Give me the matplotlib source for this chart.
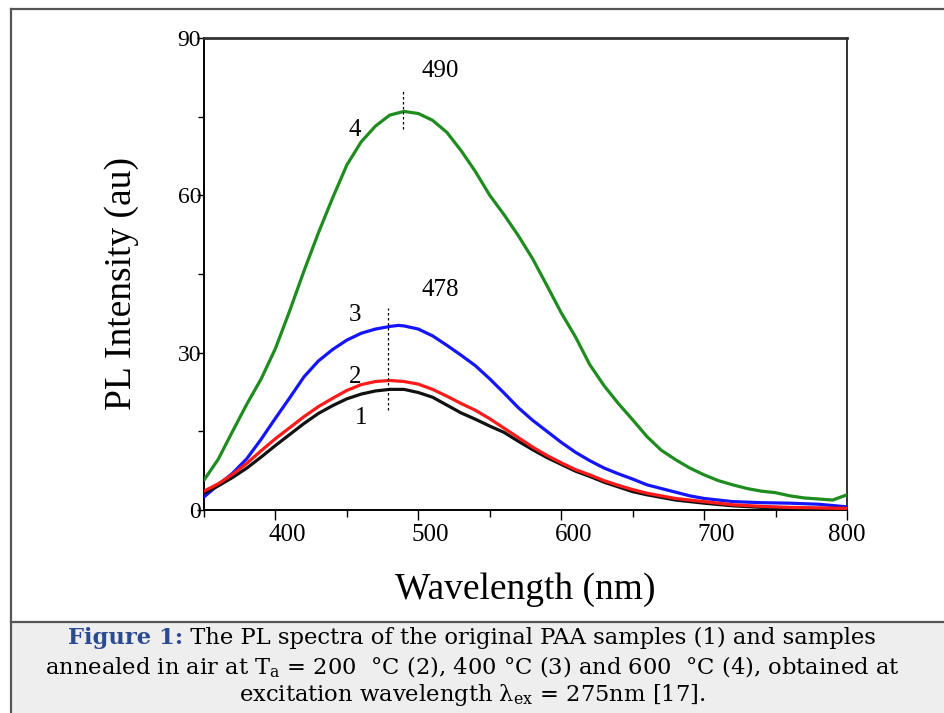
import numpy as np
import matplotlib
matplotlib.use("Agg")
import matplotlib.pyplot as plt
from matplotlib.lines import Line2D
from matplotlib.patches import Rectangle
from matplotlib.ticker import MultipleLocator
from matplotlib.transforms import ScaledTranslation

# PL spectra (wavelength in nm, intensity in au)
wl_4 = [350, 360, 370, 380, 390, 400, 410, 420, 430, 440, 450, 460, 470, 480,
        490, 500, 510, 520, 530, 540, 550, 560, 570, 580, 590, 600, 610, 620,
        630, 640, 650, 660, 670, 680, 690, 700, 710, 720, 730, 740, 750, 760,
        770, 780, 790, 800]
pl_4 = [5.7, 9.7, 15.0, 20.2, 25.0, 30.8, 38.0, 45.6, 52.8, 59.5, 65.8, 70.2,
        73.2, 75.3, 76.0, 75.6, 74.3, 72.0, 68.5, 64.5, 60.0, 56.3, 52.3, 47.9,
        42.8, 37.6, 33.0, 27.7, 23.7, 20.3, 17.2, 14.0, 11.4, 9.6, 8.0, 6.7,
        5.6, 4.8, 4.1, 3.6, 3.3, 2.7, 2.3, 2.1, 1.9, 2.9]

wl_3 = [350, 360, 370, 380, 390, 400, 410, 420, 430, 440, 450, 460, 470, 480,
        486, 490, 500, 510, 520, 530, 540, 550, 560, 570, 580, 590, 600, 610,
        620, 630, 640, 650, 660, 670, 680, 690, 700, 720, 740, 760, 780, 800]
pl_3 = [2.5, 4.8, 7.0, 9.8, 13.5, 17.5, 21.4, 25.4, 28.4, 30.6, 32.4, 33.7,
        34.5, 35.0, 35.2, 35.1, 34.5, 33.2, 31.4, 29.5, 27.5, 25.0, 22.3, 19.5,
        17.1, 15.0, 12.9, 11.0, 9.4, 8.0, 6.9, 5.9, 4.8, 4.1, 3.4, 2.7, 2.2,
        1.6, 1.4, 1.3, 1.1, 0.6]

wl_12 = [350, 360, 370, 380, 390, 400, 410, 420, 430, 440, 450, 460, 470, 480,
         490, 500, 510, 520, 530, 540, 550, 560, 570, 580, 590, 600, 610, 620,
         630, 640, 650, 660, 670, 680, 690, 700, 720, 740, 760, 780, 800]
pl_2 = [3.6, 5.0, 6.8, 8.9, 11.3, 13.6, 15.7, 17.8, 19.7, 21.3, 22.8, 23.9,
        24.5, 24.7, 24.5, 24.0, 23.0, 21.7, 20.3, 19.0, 17.4, 15.6, 13.8, 12.0,
        10.4, 9.0, 7.7, 6.7, 5.6, 4.7, 3.9, 3.2, 2.7, 2.2, 1.9, 1.6, 1.0, 0.7,
        0.5, 0.4, 0.3]
pl_1 = [3.2, 4.6, 6.2, 8.0, 10.1, 12.3, 14.4, 16.5, 18.4, 19.9, 21.2, 22.1,
        22.7, 23.0, 23.0, 22.4, 21.5, 20.0, 18.5, 17.3, 16.0, 14.8, 13.1, 11.5,
        10.0, 8.7, 7.4, 6.4, 5.3, 4.4, 3.5, 2.9, 2.4, 1.9, 1.6, 1.3, 0.8, 0.5,
        0.4, 0.3, 0.3]

curve_labels = ["1", "2", "3", "4"]
label_wl = [460, 455.5, 455.5, 455.5]
label_pl = [17.6, 25.4, 37.1, 72.4]
peak_wl = [479, 489]
peak_text = ["478", "490"]
peak_span = [(19.1, 38.6), (72.6, 80.3)]
xticks = [400, 500, 600, 700, 800]
yticks = [0, 30, 60, 90]

W, H = 944, 713
fig = plt.figure(figsize=(W / 100, H / 100), dpi=100)
serif = "Liberation Serif"

# page frame and caption box
fig.add_artist(Rectangle((12 / W, 0), 1, 1 - 623 / H, transform=fig.transFigure,
                         facecolor="#eeeeee", edgecolor="none", zorder=0))
for xs, ys in [((11, W), (9, 9)), ((11, 11), (9, H)), ((11, W), (622, 622))]:
    fig.add_artist(Line2D([x / W for x in xs], [1 - y / H for y in ys],
                          color="#555555", lw=1.6, transform=fig.transFigure))

ax = fig.add_axes([204 / W, 1 - 510 / H, (847 - 204) / W, (510 - 38) / H])
style = dict(lw=2.3, solid_joinstyle="round", solid_capstyle="round")
ax.plot(wl_4, pl_4, color="#1e8c1e", zorder=3, **style)
ax.plot(wl_3, pl_3, color="#1414ff", zorder=3, **style)
ax.plot(wl_12, pl_1, color="#111111", zorder=3, **style)
ax.plot(wl_12, pl_2, color="#ff1a1a", zorder=4, **style)

for w, (y0, y1) in zip(peak_wl, peak_span):
    ax.plot([w, w], [y0, y1], color="black", lw=0.9, ls=(0, (2, 2)), zorder=5)
for w, t, (y0, y1) in zip(peak_wl, peak_text, peak_span):
    ax.text(515.4, y1 + 3.4, t, fontsize=18, family=serif, ha="center", va="center")
for t, x, y in zip(curve_labels, label_wl, label_pl):
    ax.text(x, y, t, fontsize=18, family=serif, ha="center", va="center")

ax.set_xlim(350, 800)
ax.set_ylim(0, 90)
ax.set_xticks(xticks)
ax.set_yticks(yticks)
ax.xaxis.set_minor_locator(MultipleLocator(50))
ax.yaxis.set_minor_locator(MultipleLocator(15))
ax.tick_params(axis="x", which="major", length=7, width=1, pad=3, labelsize=18)
ax.tick_params(axis="x", which="minor", length=5, width=1)
ax.tick_params(axis="y", which="major", length=5, width=1, pad=-3, labelsize=17)
ax.tick_params(axis="y", which="minor", length=4, width=1)
for lab in ax.get_xticklabels() + ax.get_yticklabels():
    lab.set_family(serif)
for lab in ax.get_xticklabels()[:4]:
    lab.set_transform(lab.get_transform() + ScaledTranslation(0.12, 0, fig.dpi_scale_trans))
for s in ax.spines.values():
    s.set_linewidth(1.4)
ax.spines["top"].set_color("#333333")
ax.spines["right"].set_color("#333333")
ax.spines["top"].set_linewidth(2)

ax.set_xlabel("Wavelength (nm)", fontsize=27, family=serif, va="center")
ax.xaxis.set_label_coords((525 - 204) / 643, -(590 - 510) / 472)
ax.set_ylabel("PL Intensity (au)", fontsize=27, family=serif, va="center")
ax.yaxis.set_label_coords(-(204 - 122) / 643, (510 - 283) / 472)

# caption
plt.rcParams["mathtext.fontset"] = "dejavuserif"
cap_font = dict(family="DejaVu Serif", fontsize=16.3)
r = fig.canvas.get_renderer()
head = fig.text(0, 1 - 638 / H, "Figure 1:", color="#2b4b91", weight="bold",
                va="center", **cap_font)
rest = fig.text(0, 1 - 638 / H, " The PL spectra of the original PAA samples (1) and samples",
                va="center", **cap_font)
w1 = head.get_window_extent(r).width
w2 = rest.get_window_extent(r).width
x0 = (W - w1 - w2) / 2
head.set_x(x0 / W)
rest.set_x((x0 + w1) / W)
fig.text(0.5, 1 - 667 / H,
         r"annealed in air at T$_{\rm a}$ = 200  °C (2), 400 °C (3) and 600  °C (4), obtained at",
         ha="center", va="center", **cap_font)
fig.text(0.5, 1 - 695 / H, r"excitation wavelength λ$_{\rm ex}$ = 275nm [17].",
         ha="center", va="center", **cap_font)

fig.savefig("out.png", dpi=100)
